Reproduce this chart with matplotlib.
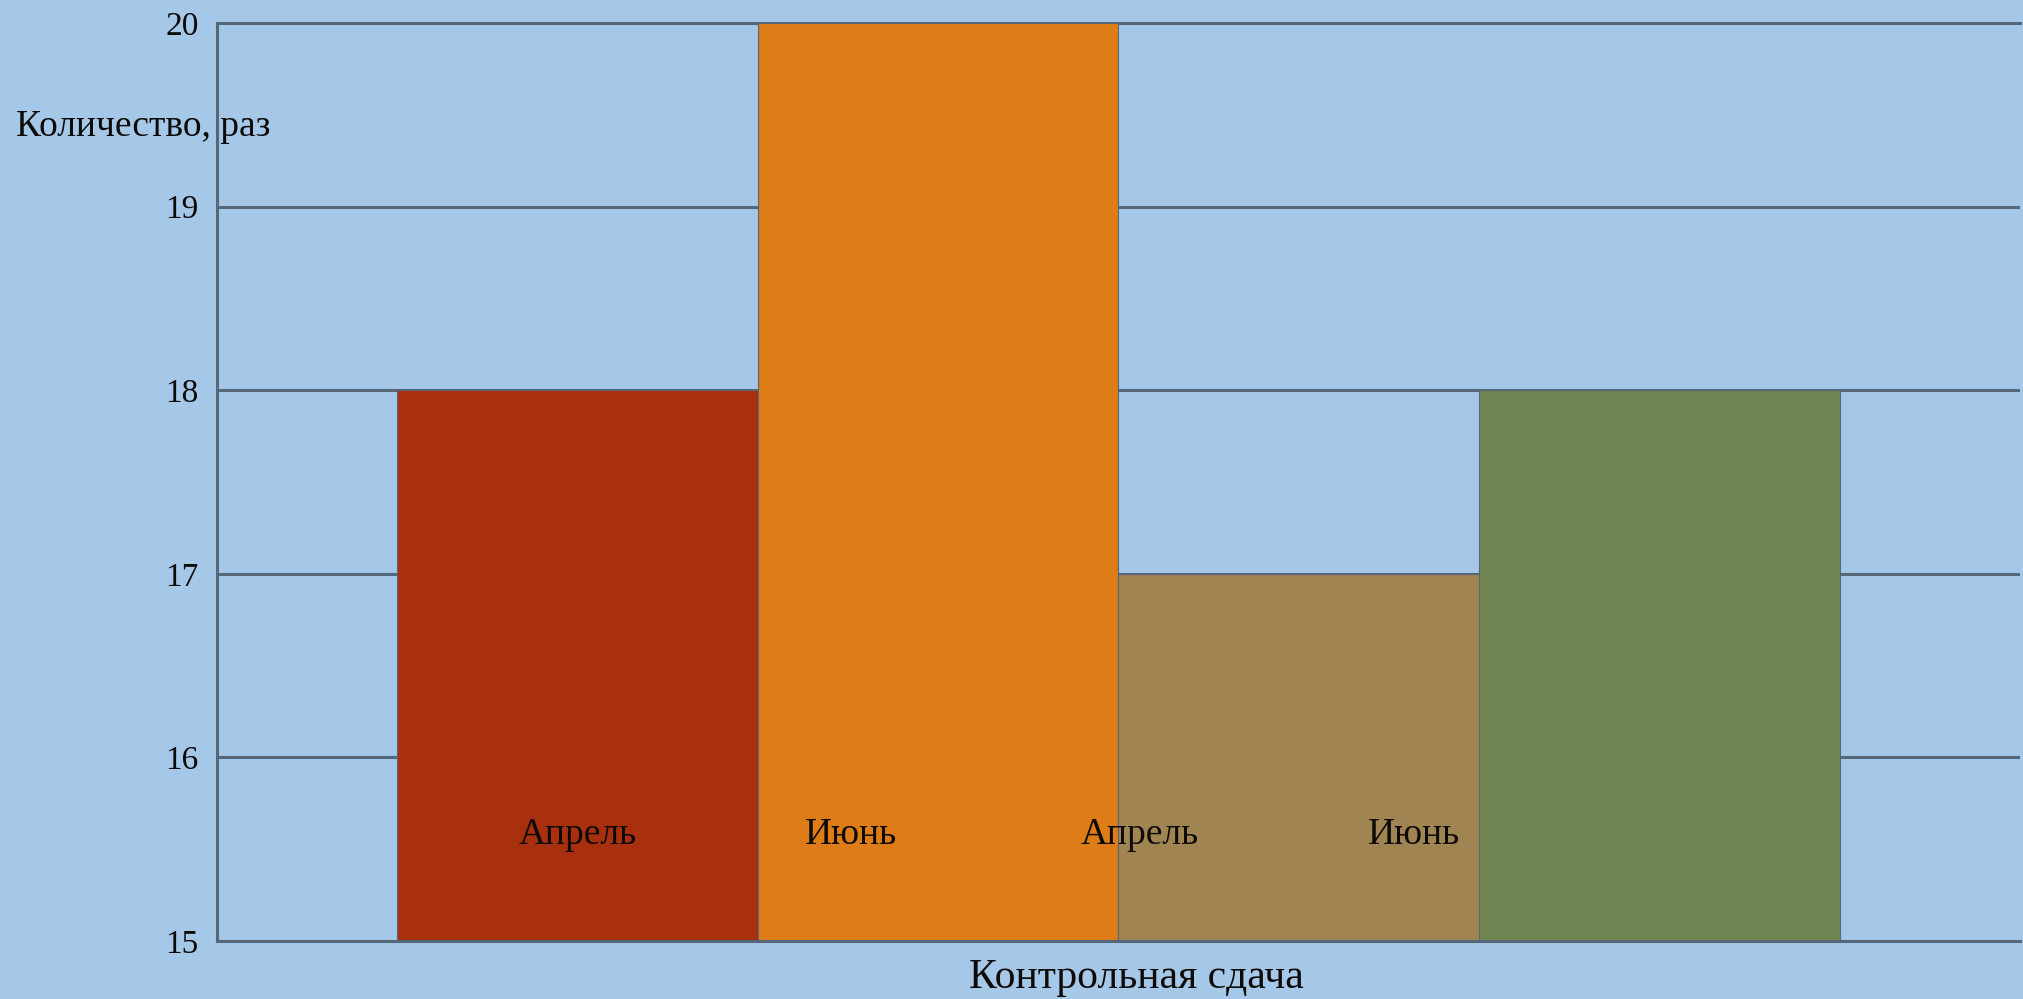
import matplotlib
matplotlib.use("Agg")
import matplotlib.pyplot as plt

# Data
categories = ["1", "2", "3", "4"]
values = [18, 20, 17, 18]
bar_colors = ["#A8300F", "#DE7C18", "#A08552", "#718552"]
inner_labels = ["Апрель", "Июнь", "Апрель", "Июнь"]
inner_label_x = [0.0, 0.76, 1.56, 2.32]
inner_label_y = 15.58
yticks = [15, 16, 17, 18, 19, 20]

bg = "#A5C8E9"
gridc = "#56677A"
font = "Liberation Serif"
txtc = "#0d0a08"

fig = plt.figure(figsize=(20.24, 9.99), dpi=100, facecolor=bg)
ax = fig.add_axes([0.107, 0.058, 0.891, 0.919])
ax.set_facecolor(bg)

x = list(range(len(categories)))
ax.bar(x, [v - 15 for v in values], bottom=15, width=1.0, color=bar_colors,
       edgecolor=gridc, linewidth=0.8, zorder=3)

ax.set_xlim(-1, 4)
ax.set_ylim(15, 20)
ax.set_yticks(yticks)
ax.set_yticklabels([str(t) for t in yticks], fontfamily=font, fontsize=24, color=txtc)
ax.set_xticks([])
ax.tick_params(axis="y", length=0, pad=13)
ax.yaxis.grid(True, color=gridc, linewidth=2.2, zorder=1)
ax.set_axisbelow(True)
ax.spines["right"].set_visible(False)
for s in ["left", "top", "bottom"]:
    ax.spines[s].set_color(gridc)
    ax.spines[s].set_linewidth(2.2)
ax.spines["left"].set_zorder(4)
ax.spines["bottom"].set_zorder(4)
ax.spines["top"].set_zorder(0.5)

for xi, lab in zip(inner_label_x, inner_labels):
    ax.text(xi, inner_label_y, lab, ha="center", va="center",
            fontfamily=font, fontsize=27, color=txtc, zorder=5)

fig.text(143 / 2024, 1 - 127 / 999, "Количество, раз", ha="center", va="center",
         fontfamily=font, fontsize=27, color=txtc, zorder=6)
fig.text(1136 / 2024, 1 - 978 / 999, "Контрольная сдача", ha="center", va="center",
         fontfamily=font, fontsize=30, color=txtc)

fig.savefig("out.png", dpi=100, facecolor=bg)
